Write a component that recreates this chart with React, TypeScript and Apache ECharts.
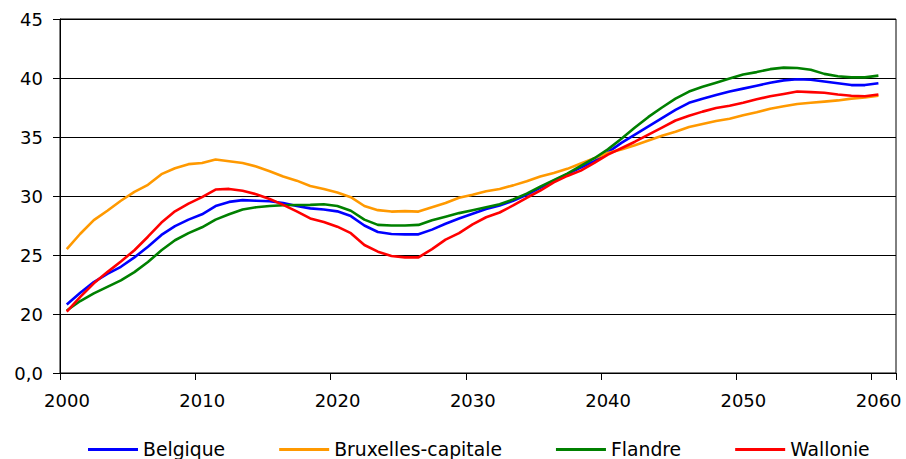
import React, { useEffect, useRef } from "react";
import * as echarts from "echarts";

const years: number[] = [];
for (let y = 2000; y <= 2060; y++) years.push(y);

const seriesNames = ["Belgique", "Bruxelles-capitale", "Flandre", "Wallonie"];
const seriesColors = ["#0000FF", "#FF9900", "#008000", "#FF0000"];

const belgique = [
  20.8, 21.8, 22.7, 23.4, 24.0, 24.8, 25.7, 26.7, 27.45, 28.0,
  28.45, 29.15, 29.5, 29.65, 29.6, 29.55, 29.4, 29.15, 28.95, 28.85,
  28.7, 28.3, 27.5, 26.95, 26.78, 26.75, 26.75, 27.15, 27.65, 28.1,
  28.5, 28.9, 29.2, 29.6, 30.1, 30.7, 31.3, 31.85, 32.4, 32.95,
  33.7, 34.5, 35.2, 35.9, 36.6, 37.3, 37.9, 38.25, 38.55, 38.85,
  39.1, 39.35, 39.6, 39.8, 39.9, 39.85, 39.7, 39.55, 39.4, 39.4,
  39.55,
];

const bruxelles = [
  25.5, 26.8, 27.95, 28.75, 29.6, 30.35, 30.95, 31.85, 32.35, 32.7,
  32.8, 33.1, 32.95, 32.8, 32.5, 32.1, 31.65, 31.3, 30.85, 30.6,
  30.3, 29.9, 29.15, 28.8, 28.68, 28.72, 28.68, 29.05, 29.4, 29.85,
  30.1, 30.4, 30.6, 30.9, 31.25, 31.65, 31.95, 32.3, 32.75, 33.2,
  33.65, 33.95, 34.3, 34.7, 35.1, 35.45, 35.85, 36.1, 36.35, 36.55,
  36.85, 37.1, 37.4, 37.6, 37.8, 37.9, 38.0, 38.1, 38.25, 38.35,
  38.5,
];

const flandre = [
  20.3, 21.1, 21.75, 22.3, 22.85, 23.55, 24.4, 25.4, 26.25, 26.85,
  27.35, 28.0, 28.45, 28.85, 29.05, 29.15, 29.22, 29.24, 29.25, 29.3,
  29.15, 28.75, 28.0, 27.55, 27.5, 27.5, 27.55, 27.95, 28.25, 28.55,
  28.8, 29.05, 29.3, 29.7, 30.2, 30.8, 31.35, 31.9, 32.55, 33.2,
  33.95, 34.85, 35.8, 36.7, 37.5, 38.25, 38.85, 39.25, 39.6, 39.95,
  40.3, 40.5, 40.75, 40.88, 40.85, 40.7, 40.35, 40.15, 40.05, 40.05,
  40.2,
];

const wallonie = [
  20.2, 21.45, 22.6, 23.55, 24.45, 25.4, 26.55, 27.75, 28.7, 29.35,
  29.9, 30.55, 30.6, 30.45, 30.15, 29.75, 29.25, 28.7, 28.1, 27.8,
  27.4, 26.85, 25.85, 25.28, 24.92, 24.8, 24.8, 25.5, 26.3, 26.85,
  27.6, 28.2, 28.6, 29.2, 29.85, 30.45, 31.15, 31.7, 32.15, 32.8,
  33.5, 34.05, 34.6, 35.2, 35.8, 36.4, 36.8, 37.15, 37.45, 37.65,
  37.9, 38.2, 38.45, 38.65, 38.85, 38.8, 38.75, 38.6, 38.5, 38.45,
  38.6,
];

const seriesValues = [belgique, bruxelles, flandre, wallonie];

const FONT = "DejaVu Sans";

export default function App() {
  const ref = useRef<HTMLDivElement>(null);

  useEffect(() => {
    if (!ref.current) return;
    const chart = echarts.init(ref.current, undefined, { renderer: "svg" });
    chart.setOption({
      animation: false,
      backgroundColor: "#ffffff",
      grid: {
        left: 60,
        top: 19,
        width: 836,
        height: 354,
        show: true,
        borderColor: "#000",
        borderWidth: 1,
      },
      legend: {
        left: 88,
        top: 440,
        padding: 0,
        icon: "rect",
        itemWidth: 50,
        itemHeight: 3,
        itemGap: 54,
        textStyle: { fontFamily: FONT, fontSize: 18.8, lineHeight: 18, color: "#000" },
        data: seriesNames,
      },
      xAxis: {
        type: "value",
        min: 2000,
        max: 2061.8,
        interval: 10,
        axisLine: { show: true, lineStyle: { color: "#000", width: 1 } },
        axisTick: { show: true, length: 7, inside: false, lineStyle: { color: "#000" } },
        splitLine: { show: false },
        axisLabel: {
          color: "#000",
          fontFamily: FONT,
          fontSize: 18,
          margin: 18,
          padding: [0, 0, 0, 14],
          formatter: (v: number) => (v % 10 === 0 ? String(v) : ""),
        },
      },
      yAxis: {
        type: "value",
        min: 15,
        max: 45,
        interval: 5,
        axisLine: { show: true, lineStyle: { color: "#000", width: 1 } },
        axisTick: { show: true, length: 7, lineStyle: { color: "#000" } },
        splitLine: { show: true, lineStyle: { color: "#000", width: 1 } },
        axisLabel: {
          color: "#000",
          fontFamily: FONT,
          fontSize: 18,
          margin: 17,
          formatter: (v: number) => (v === 15 ? "0,0" : String(v)),
        },
      },
      series: seriesNames.map((name, si) => ({
        name,
        type: "line",
        symbol: "none",
        lineStyle: { color: seriesColors[si], width: 2.6 },
        itemStyle: { color: seriesColors[si] },
        data: years.map((y, i) => [y + 0.5, seriesValues[si][i]]),
      })),
    });
    return () => chart.dispose();
  }, []);

  return (
    <div
      ref={ref}
      style={{ position: "fixed", left: 0, top: 0, width: 906, height: 459, background: "#fff" }}
    />
  );
}
